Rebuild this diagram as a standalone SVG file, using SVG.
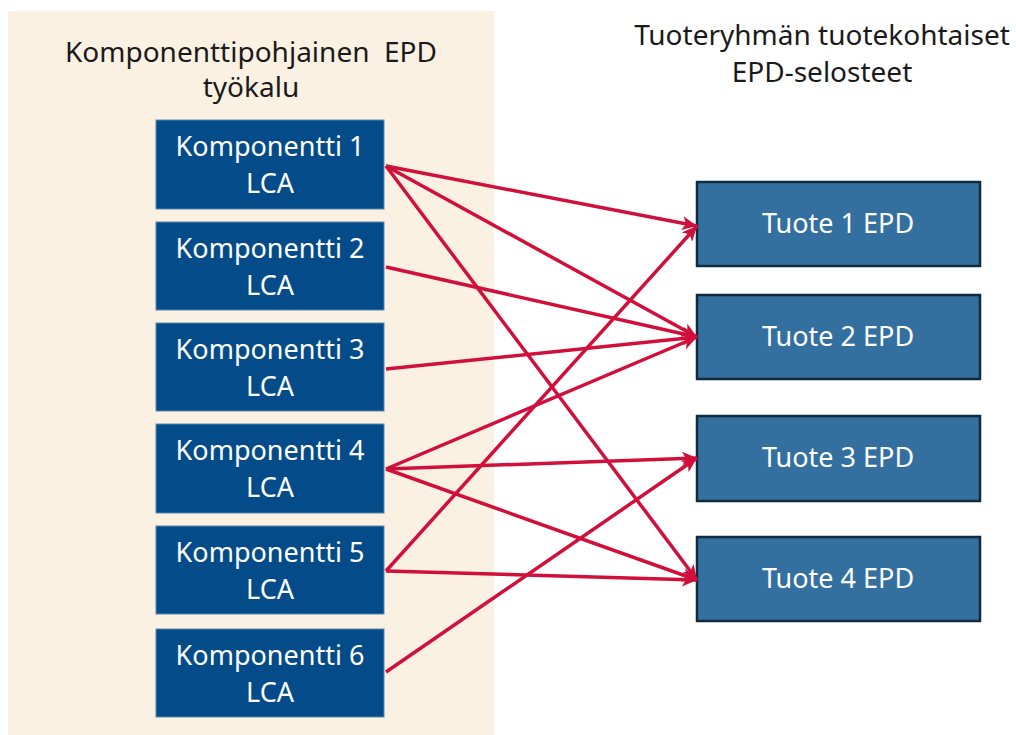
<svg xmlns="http://www.w3.org/2000/svg" width="1016" height="735" viewBox="0 0 1016 735">
<style>
.title{font-family:"Noto Sans","Liberation Sans",sans-serif;font-size:28px;fill:#1a1a1a;text-anchor:middle}
.comp rect{fill:#034C89;stroke:#5b86b0;stroke-width:1}
.comp text{font-family:"Noto Sans","Liberation Sans",sans-serif;font-size:27px;fill:#ffffff;text-anchor:middle}
.prod rect{fill:#34709F;stroke:#0f2b40;stroke-width:2.5}
.prod text{font-family:"Noto Sans","Liberation Sans",sans-serif;font-size:27px;fill:#ffffff;text-anchor:middle}
.conn line{stroke:#D0103A;stroke-width:3.5;marker-end:url(#ah)}
</style>
<defs>
<marker id="ah" markerUnits="userSpaceOnUse" markerWidth="16" markerHeight="14" refX="15" refY="7" orient="auto">
<path d="M0,0 L15,7 L0,14 L4,7 Z" fill="#D0103A"/>
</marker>
</defs>
<rect x="0" y="0" width="1016" height="735" fill="#ffffff"/>
<rect id="panel" x="8" y="11" width="486" height="724" fill="#FBF1E3"/>
<text class="title" x="251" y="62" xml:space="preserve">Komponenttipohjainen  EPD</text>
<text class="title" x="251" y="97">työkalu</text>
<text class="title" x="822" y="45">Tuoteryhmän tuotekohtaiset</text>
<text class="title" x="822" y="82">EPD-selosteet</text>
<g id="comp1" class="comp"><rect x="156" y="120" width="228" height="89"/><text x="270" y="156">Komponentti 1</text><text x="270" y="193">LCA</text></g>
<g id="comp2" class="comp"><rect x="156" y="222" width="228" height="88"/><text x="270" y="258">Komponentti 2</text><text x="270" y="295">LCA</text></g>
<g id="comp3" class="comp"><rect x="156" y="323" width="228" height="88"/><text x="270" y="359">Komponentti 3</text><text x="270" y="396">LCA</text></g>
<g id="comp4" class="comp"><rect x="156" y="424" width="228" height="89"/><text x="270" y="460">Komponentti 4</text><text x="270" y="497">LCA</text></g>
<g id="comp5" class="comp"><rect x="156" y="526" width="228" height="88"/><text x="270" y="562">Komponentti 5</text><text x="270" y="599">LCA</text></g>
<g id="comp6" class="comp"><rect x="156" y="629" width="228" height="88"/><text x="270" y="665">Komponentti 6</text><text x="270" y="702">LCA</text></g>
<g id="prod1" class="prod"><rect x="697" y="182" width="283" height="84"/><text x="838" y="233">Tuote 1 EPD</text></g>
<g id="prod2" class="prod"><rect x="697" y="295" width="283" height="84"/><text x="838" y="346">Tuote 2 EPD</text></g>
<g id="prod3" class="prod"><rect x="697" y="416" width="283" height="85"/><text x="838" y="467">Tuote 3 EPD</text></g>
<g id="prod4" class="prod"><rect x="697" y="537" width="283" height="84"/><text x="838" y="588">Tuote 4 EPD</text></g>
<g id="connectors" class="conn">
<line x1="386" y1="166" x2="697" y2="226"/>
<line x1="386" y1="166" x2="697" y2="337"/>
<line x1="386" y1="166" x2="697" y2="580"/>
<line x1="386" y1="267" x2="697" y2="337"/>
<line x1="386" y1="369" x2="697" y2="337"/>
<line x1="386" y1="469" x2="697" y2="337"/>
<line x1="386" y1="469" x2="697" y2="458"/>
<line x1="386" y1="469" x2="697" y2="580"/>
<line x1="386" y1="571" x2="697" y2="226"/>
<line x1="386" y1="571" x2="697" y2="580"/>
<line x1="386" y1="672" x2="697" y2="458"/>
</g>
</svg>
